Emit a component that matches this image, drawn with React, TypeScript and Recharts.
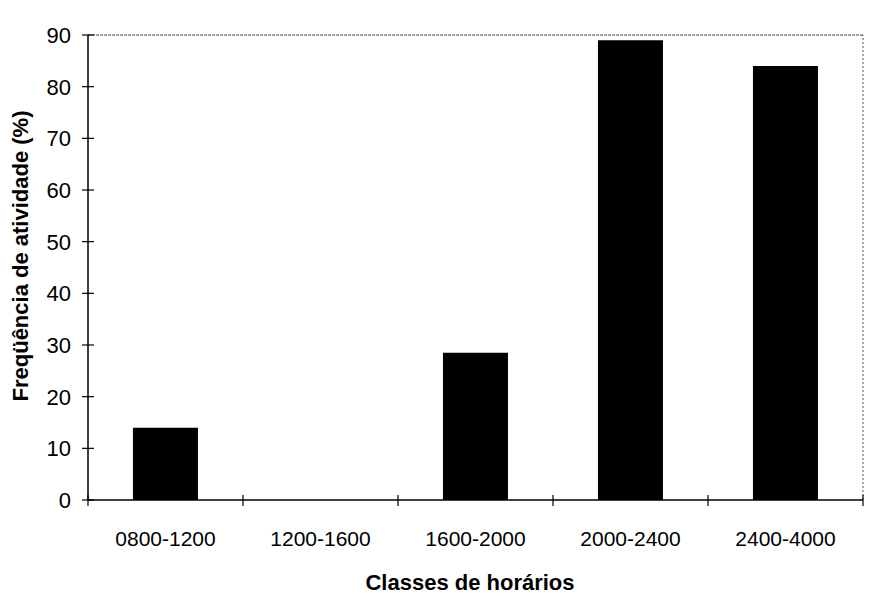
import React from 'react';
import { BarChart, Bar, XAxis, YAxis, Label, ReferenceLine } from 'recharts';

const classes = ['0800-1200', '1200-1600', '1600-2000', '2000-2400', '2400-4000'];
const frequencia = [14, 0, 28.5, 89, 84];
const yTicks = [0, 10, 20, 30, 40, 50, 60, 70, 80, 90];

const data = classes.map((c, i) => ({ classe: c, freq: frequencia[i] }));

const W = 869;
const H = 601;
const margin = { top: 35, right: 6, left: 20, bottom: 0 };
const yAxisWidth = 68;
const xAxisHeight = 101;
const plotLeft = margin.left + yAxisWidth;
const plotBottom = H - margin.bottom - xAxisHeight;
const halfBand = (W - plotLeft - margin.right) / classes.length / 2;
const font = '"Liberation Sans", Arial, sans-serif';

const YTick = (props: any) => {
  const { y, payload } = props;
  return (
    <g>
      <line x1={plotLeft - 6} x2={plotLeft + 6} y1={y} y2={y} stroke="#000" strokeWidth={1.2} />
      <text x={plotLeft - 17} y={y} dy={8} textAnchor="end" fontSize={22} fontFamily={font} fill="#000">
        {payload.value}
      </text>
    </g>
  );
};

const XTick = (props: any) => {
  const { x, payload, index } = props;
  return (
    <g>
      <line x1={x - halfBand} x2={x - halfBand} y1={plotBottom - 5} y2={plotBottom + 6} stroke="#000" strokeWidth={1.2} />
      {index === classes.length - 1 && (
        <line x1={x + halfBand} x2={x + halfBand} y1={plotBottom - 5} y2={plotBottom + 6} stroke="#000" strokeWidth={1.2} />
      )}
      <text x={x} y={plotBottom + 46} textAnchor="middle" fontSize={21} fontFamily={font} fill="#000">
        {payload.value}
      </text>
    </g>
  );
};

export default function App() {
  return (
    <div style={{ position: 'fixed', left: 0, top: 0, width: W, height: H, background: '#fff' }}>
      <BarChart width={W} height={H} data={data} margin={margin} barCategoryGap="29%">
        <XAxis
          dataKey="classe"
          xAxisId="cat"
          height={xAxisHeight}
          axisLine={{ stroke: '#000', strokeWidth: 1.5 }}
          tickLine={false}
          tick={<XTick />}
          interval={0}
        >
          <Label
            content={() => (
              <text
                x={470}
                y={590}
                textAnchor="middle"
                fontSize={22}
                fontWeight="bold"
                fontFamily={font}
                fill="#000"
              >
                Classes de horários
              </text>
            )}
          />
        </XAxis>
        <YAxis
          yAxisId="left"
          width={yAxisWidth}
          domain={[0, 90]}
          ticks={yTicks}
          interval={0}
          axisLine={{ stroke: '#000', strokeWidth: 1.5 }}
          tickLine={false}
          tick={<YTick />}
        >
          <Label
            content={() => (
              <text
                x={0}
                y={0}
                transform={`translate(28, 256) rotate(-90)`}
                textAnchor="middle"
                fontSize={22}
                fontWeight="bold"
                fontFamily={font}
                fill="#000"
              >
                Freqüência de atividade (%)
              </text>
            )}
          />
        </YAxis>
        <ReferenceLine
          y={90}
          xAxisId="cat"
          yAxisId="left"
          stroke="#444"
          strokeWidth={1}
          strokeDasharray="3 1"
        />
        <ReferenceLine
          x={classes[classes.length - 1]}
          position="end"
          xAxisId="cat"
          yAxisId="left"
          stroke="#555"
          strokeWidth={1}
          strokeDasharray="2 2"
        />
        <Bar dataKey="freq" xAxisId="cat" yAxisId="left" fill="#000" isAnimationActive={false} />
      </BarChart>
    </div>
  );
}
